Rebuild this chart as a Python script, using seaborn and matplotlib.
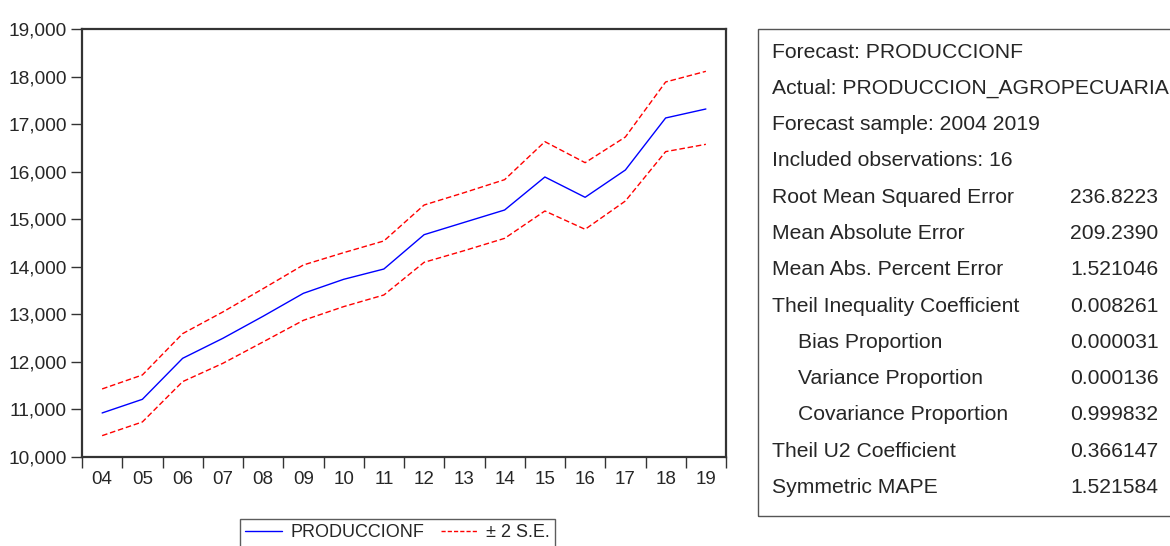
import numpy as np
import pandas as pd
import seaborn as sns
import matplotlib
matplotlib.use("Agg")
from matplotlib import pyplot as plt
from matplotlib.patches import Rectangle
from matplotlib.lines import Line2D

# data
years = ["04", "05", "06", "07", "08", "09", "10", "11",
         "12", "13", "14", "15", "16", "17", "18", "19"]
forecast = [10926, 11213, 12075, 12496, 12960, 13442, 13736, 13953,
            14675, 14935, 15194, 15888, 15461, 16035, 17129, 17318]
upper = [11431, 11725, 12594, 13050, 13540, 14038, 14297, 14543,
         15299, 15560, 15832, 16631, 16189, 16729, 17886, 18110]
lower = [10449, 10737, 11585, 11970, 12420, 12874, 13162, 13407,
         14094, 14340, 14598, 15173, 14788, 15383, 16421, 16575]

stat_labels = ["Forecast: PRODUCCIONF",
               "Actual: PRODUCCION_AGROPECUARIA",
               "Forecast sample: 2004 2019",
               "Included observations: 16",
               "Root Mean Squared Error",
               "Mean Absolute Error",
               "Mean Abs. Percent Error",
               "Theil Inequality Coefficient",
               "Bias Proportion",
               "Variance Proportion",
               "Covariance Proportion",
               "Theil U2 Coefficient",
               "Symmetric MAPE"]
stat_values = ["", "", "", "", "236.8223", "209.2390", "1.521046", "0.008261",
               "0.000031", "0.000136", "0.999832", "0.366147", "1.521584"]
indented = ["Bias Proportion", "Variance Proportion", "Covariance Proportion"]

sns.set_style("white")
plt.rcParams['font.family'] = ['Liberation Sans', 'DejaVu Sans']

W, H = 1170, 546
fig = plt.figure(figsize=(W / 100, H / 100), dpi=100)
ax = fig.add_axes([82 / W, 1 - 457 / H, 644 / W, 428 / H])

df = pd.DataFrame({"x": np.arange(len(years)), "forecast": forecast,
                   "upper": upper, "lower": lower})

sns.lineplot(data=df, x="x", y="forecast", ax=ax, color="#0000ff", lw=1.0)
sns.lineplot(data=df, x="x", y="upper", ax=ax, color="#ff0000", lw=1.0,
             linestyle=(0, (4, 2)))
sns.lineplot(data=df, x="x", y="lower", ax=ax, color="#ff0000", lw=1.0,
             linestyle=(0, (4, 2)))

ax.set_xlim(-0.5, len(years) - 0.5)
ax.set_ylim(10000, 19000)
ax.set_xlabel("")
ax.set_ylabel("")

# labels in the middle of each year band, tick marks at the band edges
ax.set_xticks(np.arange(len(years)))
ax.set_xticklabels(years)
ax.set_xticks(np.arange(len(years) + 1) - 0.5, minor=True)
ax.tick_params(axis="x", which="major", length=0, pad=10, labelsize=13.5)
ax.tick_params(axis="x", which="minor", length=8, width=1, direction="out",
               color="#333333", bottom=True)
ax.set_yticks(np.arange(10000, 19001, 1000))
ax.set_yticklabels([f"{v:,}" for v in range(10000, 19001, 1000)])
ax.tick_params(axis="y", length=8, width=1, direction="out", left=True,
               color="#333333", labelsize=13.8, pad=3)

for s in ax.spines.values():
    s.set_visible(True)
    s.set_color("#333333")
    s.set_linewidth(1.6)

# legend below the plot
handles = [Line2D([], [], color="#0000ff", lw=1.0),
           Line2D([], [], color="#ff0000", lw=1.0, linestyle=(0, (3, 1.5)))]
leg = fig.legend(handles, ["PRODUCCIONF", "± 2 S.E."], ncol=2,
                 loc="upper left", bbox_to_anchor=(240 / W, 1 - 519 / H),
                 frameon=True, fancybox=False, fontsize=13,
                 handlelength=2.0, handletextpad=0.5, columnspacing=0.9,
                 borderpad=0.3, borderaxespad=0)
leg.get_frame().set_edgecolor("#333333")
leg.get_frame().set_linewidth(1.0)

# statistics table on the right
fig.patches.append(Rectangle((758 / W, 1 - 516 / H), 500 / W, 487 / H,
                             transform=fig.transFigure, fill=False,
                             edgecolor="#555555", lw=1.0))
row0, step = 52, 36.3
for i, (lab, val) in enumerate(zip(stat_labels, stat_values)):
    y = 1 - (row0 + i * step) / H
    x = 798 if lab in indented else 772
    fig.text(x / W, y, lab, fontsize=15.2, va="center", ha="left")
    if val:
        fig.text(1070 / W, y, val, fontsize=15.2, va="center", ha="left")

fig.savefig("out.png", dpi=100)
